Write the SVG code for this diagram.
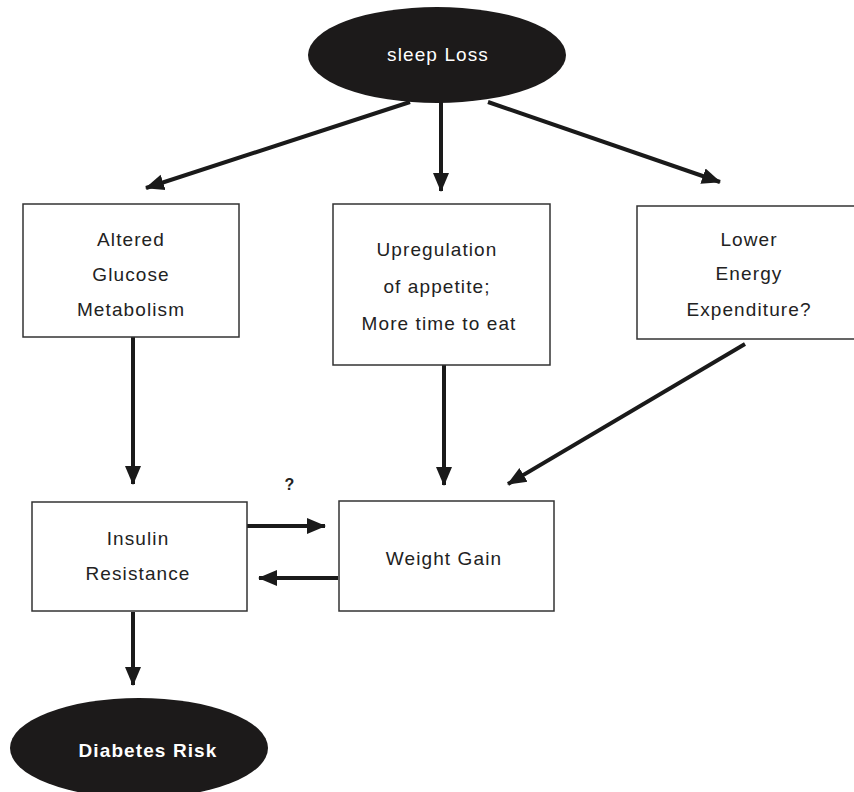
<svg xmlns="http://www.w3.org/2000/svg" width="854" height="792" viewBox="0 0 854 792">
<defs>
<marker id="ah" markerUnits="userSpaceOnUse" markerWidth="20" markerHeight="20" viewBox="0 0 20 20" refX="18" refY="10" orient="auto">
<path d="M0,2 L19,10 L0,18 Z" fill="#1a1a1a"/>
</marker>
<style>
.box{fill:#fff;stroke:#333;stroke-width:1.5}
.ell{fill:#1c1a1a}
.t{font-family:"Liberation Sans",Arial,sans-serif;font-size:19px;fill:#222;text-anchor:middle;letter-spacing:1.1px}
.w{fill:#fff}
.b{font-weight:bold}
.c{stroke:#1a1a1a;stroke-width:4;fill:none;marker-end:url(#ah)}
</style>
</defs>
<rect width="854" height="792" fill="#fff"/>
<g id="connectors">
<line class="c" x1="441" y1="100" x2="441" y2="191"/>
<line class="c" x1="410" y1="102" x2="146" y2="188"/>
<line class="c" x1="488" y1="102" x2="720" y2="182"/>
<line class="c" x1="133" y1="337" x2="133" y2="484"/>
<line class="c" x1="444" y1="365" x2="444" y2="485"/>
<line class="c" x1="745" y1="344" x2="508" y2="484"/>
<line class="c" x1="244" y1="526" x2="325" y2="526"/>
<line class="c" x1="338" y1="578" x2="259" y2="578"/>
<line class="c" x1="133" y1="612" x2="133" y2="685"/>
</g>
<g id="sleep-loss">
<ellipse class="ell" cx="437" cy="55" rx="129" ry="48"/>
<text class="t w" x="438" y="61">sleep Loss</text>
</g>
<g id="altered-glucose">
<rect class="box" x="23" y="204" width="216" height="133"/>
<text class="t" x="131" y="246">Altered</text>
<text class="t" x="131" y="281">Glucose</text>
<text class="t" x="131" y="316">Metabolism</text>
</g>
<g id="upregulation">
<rect class="box" x="333" y="204" width="217" height="161"/>
<text class="t" x="437" y="256">Upregulation</text>
<text class="t" x="437" y="293">of appetite;</text>
<text class="t" x="439" y="330">More time to eat</text>
</g>
<g id="lower-energy">
<rect class="box" x="637" y="206" width="230" height="133"/>
<text class="t" x="749" y="246">Lower</text>
<text class="t" x="749" y="280">Energy</text>
<text class="t" x="749" y="316">Expenditure?</text>
</g>
<g id="insulin-resistance">
<rect class="box" x="32" y="502" width="215" height="109"/>
<text class="t" x="138" y="545">Insulin</text>
<text class="t" x="138" y="580">Resistance</text>
</g>
<g id="weight-gain">
<rect class="box" x="339" y="501" width="215" height="110"/>
<text class="t" x="444" y="565">Weight Gain</text>
</g>
<text class="t b" x="290" y="490" style="font-size:16px">?</text>
<g id="diabetes-risk">
<ellipse class="ell" cx="139" cy="748" rx="129" ry="50"/>
<text class="t w b" x="148" y="757">Diabetes Risk</text>
</g>
</svg>
